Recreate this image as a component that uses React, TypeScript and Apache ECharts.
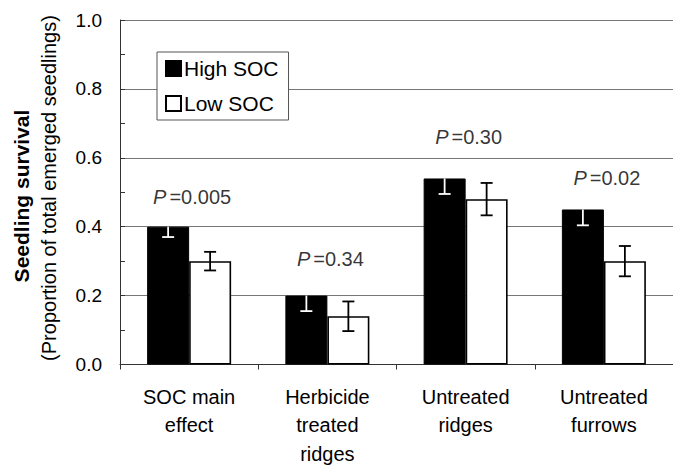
import React, { useEffect, useRef } from "react";
import * as echarts from "echarts";

const categories = ["SOC main\neffect", "Herbicide\ntreated\nridges", "Untreated\nridges", "Untreated\nfurrows"];
const seriesNames = ["High SOC", "Low SOC"];
const highValues = [0.40, 0.20, 0.54, 0.45];
const highErrors = [0.03, 0.045, 0.045, 0.046];
const lowValues = [0.30, 0.14, 0.48, 0.30];
const lowErrors = [0.027, 0.043, 0.047, 0.044];
const pTexts = ["0.005", "0.34", "0.30", "0.02"];
const pLabelY = [0.486, 0.307, 0.66, 0.54];
const yTicks = [0, 0.2, 0.4, 0.6, 0.8, 1.0];

const FONT = "'Liberation Sans', Arial, sans-serif";
const BAR_W = 42;

export default function App() {
  const ref = useRef<HTMLDivElement>(null);
  useEffect(() => {
    if (!ref.current) return;
    const chart = echarts.init(ref.current, null, { renderer: "svg" });

    const errItem = (errors: number[], values: number[], side: number, color: string, lowerOnly: boolean) =>
      (params: any, api: any) => {
        const i = api.value(0);
        const v = values[i];
        const e = errors[i];
        const c = api.coord([i, v]);
        const x = c[0] + side * (BAR_W / 2);
        const top = api.coord([i, lowerOnly ? v : v + e])[1];
        const bot = api.coord([i, v - e])[1];
        const cap = 6;
        const style = { stroke: color, lineWidth: 1.8 };
        const children: any[] = [
          { type: "line", shape: { x1: x, y1: top, x2: x, y2: bot }, style },
          { type: "line", shape: { x1: x - cap, y1: bot, x2: x + cap, y2: bot }, style },
        ];
        if (!lowerOnly) {
          children.push({ type: "line", shape: { x1: x - cap, y1: top, x2: x + cap, y2: top }, style });
        }
        return { type: "group", children };
      };

    chart.setOption({
      animation: false,
      textStyle: { fontFamily: FONT, color: "#000" },
      grid: { left: 120, top: 20, bottom: 100, width: 556 },
      legend: {
        data: seriesNames,
        orient: "vertical",
        left: 157,
        top: 52,
        icon: "rect",
        itemWidth: 15,
        itemHeight: 15,
        itemGap: 14,
        padding: [6, 10, 6, 8],
        borderColor: "#555",
        borderWidth: 1,
        backgroundColor: "#fff",
        selectedMode: false,
        textStyle: { fontFamily: FONT, fontSize: 21, color: "#000", padding: [0, 0, 0, -2] },
      },
      xAxis: {
        type: "category",
        data: categories,
        axisLine: { lineStyle: { color: "#333", width: 1 } },
        axisTick: { show: true, length: 5, lineStyle: { color: "#333" } },
        axisLabel: { fontFamily: FONT, fontSize: 20, color: "#000", margin: 18, lineHeight: 28.5 },
      },
      yAxis: {
        type: "value",
        min: 0,
        max: 1,
        interval: 0.2,
        axisLine: { show: true, lineStyle: { color: "#333", width: 1 } },
        axisTick: { show: true, inside: true, length: 5, lineStyle: { color: "#333", width: 1 } },
        minorTick: { show: true, splitNumber: 2, length: 5, lineStyle: { color: "#333", width: 1 } },
        splitLine: { show: true, lineStyle: { color: "#777", width: 1 } },
        axisLabel: {
          fontFamily: FONT,
          fontSize: 19,
          color: "#000",
          margin: 18,
          formatter: (v: number) => (yTicks.some((t) => Math.abs(t - v) < 1e-6) ? v.toFixed(1) : ""),
        },
      },
      graphic: [
        {
          type: "text",
          x: 21,
          y: 196,
          rotation: Math.PI / 2,
          style: {
            text: "Seedling survival",
            font: `bold 21px ${FONT}`,
            fill: "#000",
            textAlign: "center",
            textVerticalAlign: "middle",
          },
        },
        {
          type: "text",
          x: 49,
          y: 188,
          rotation: Math.PI / 2,
          style: {
            text: "(Proportion of total emerged seedlings)",
            font: `20px ${FONT}`,
            fill: "#000",
            textAlign: "center",
            textVerticalAlign: "middle",
          },
        },
      ],
      series: [
        {
          name: seriesNames[0],
          type: "bar",
          data: highValues,
          barWidth: BAR_W,
          barGap: "0%",
          itemStyle: { color: "#000", borderColor: "#000", borderWidth: 1 },
        },
        {
          name: seriesNames[1],
          type: "bar",
          data: lowValues,
          barWidth: BAR_W,
          barGap: "0%",
          itemStyle: { color: "#fff", borderColor: "#000", borderWidth: 1.6 },
        },
        {
          type: "custom",
          data: highValues.map((_, i) => [i]),
          renderItem: errItem(highErrors, highValues, -1, "#fff", true),
          z: 5,
        },
        {
          type: "custom",
          data: lowValues.map((_, i) => [i]),
          renderItem: errItem(lowErrors, lowValues, 1, "#000", false),
          z: 5,
        },
        {
          type: "scatter",
          data: pLabelY.map((y, i) => [i, y]),
          symbolSize: 0,
          z: 6,
          label: {
            show: true,
            position: "inside",
            offset: [3, 0],
            color: "#000",
            textBorderWidth: 0,
            formatter: (p: any) => `{i|P}{n|=${pTexts[p.dataIndex]}}`,
            rich: {
              i: { fontFamily: FONT, fontSize: 20, fontStyle: "italic", color: "#000", padding: [0, 3, 0, 0] },
              n: { fontFamily: FONT, fontSize: 20, color: "#000" },
            },
          },
        },
      ],
    });
    return () => chart.dispose();
  }, []);
  return <div ref={ref} style={{ position: "absolute", left: 0, top: 0, width: 673, height: 468 }} />;
}
